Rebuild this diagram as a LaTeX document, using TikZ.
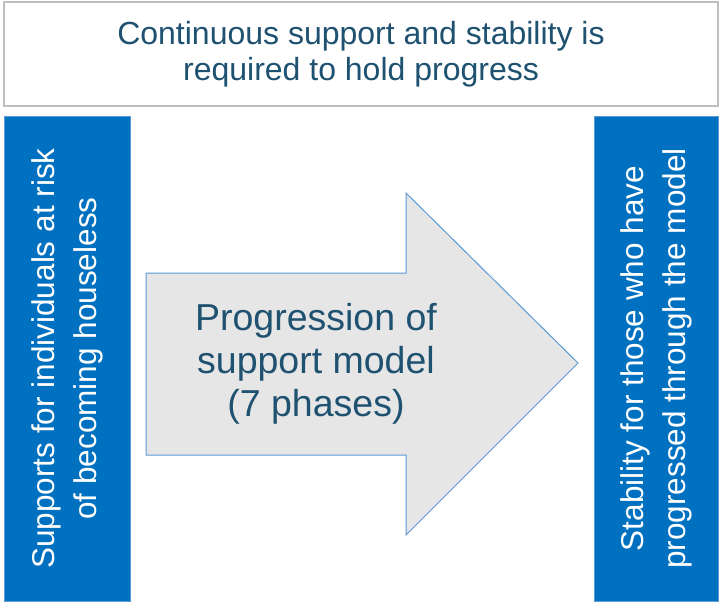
\documentclass[tikz,border=0pt]{standalone}
\usepackage{fontspec}
\setmainfont{Liberation Sans}
\definecolor{tealtext}{HTML}{1F5170}
\definecolor{sideblue}{HTML}{0070C0}
\definecolor{sideedge}{HTML}{5B9BD5}
\definecolor{arrowfill}{HTML}{E6E6E6}

\begin{document}
\begin{tikzpicture}[x=1pt,y=-1pt,
	topbox/.style={draw=black!25,line width=1.5pt,fill=white,text=tealtext,align=center,
		minimum width=714pt,minimum height=104pt,font=\fontsize{32}{36}\selectfont},
	sidebox/.style={draw=sideedge,line width=1pt,fill=sideblue,text=white,align=center,
		rotate=90,minimum width=485pt,font=\fontsize{31.5}{42}\selectfont},
	arrowtxt/.style={text=tealtext,align=center,font=\fontsize{37.5}{43}\selectfont}]
	\useasboundingbox (0,0) rectangle (721,605);
	\node (top) [topbox] at (361,54) {Continuous support and stability is\\required to hold progress};
	\node (left) [sidebox,minimum height=126pt] at (67,358.5) {Supports for individuals at risk\\of becoming houseless};
	\node (right) [sidebox,minimum height=124pt] at (656,358.5) {Stability for those who have\\progressed through the model};
	% the big arrow
	\draw[draw=sideedge,line width=1pt,fill=arrowfill] (146,273) -- (406,273) -- (406,193) -- (578,363)
		-- (406,535) -- (406,455) -- (146,455) -- cycle;
	\node (prog) [arrowtxt] at (316,364) {Progression of\\support model\\(7 phases)};
\end{tikzpicture}
\end{document}
